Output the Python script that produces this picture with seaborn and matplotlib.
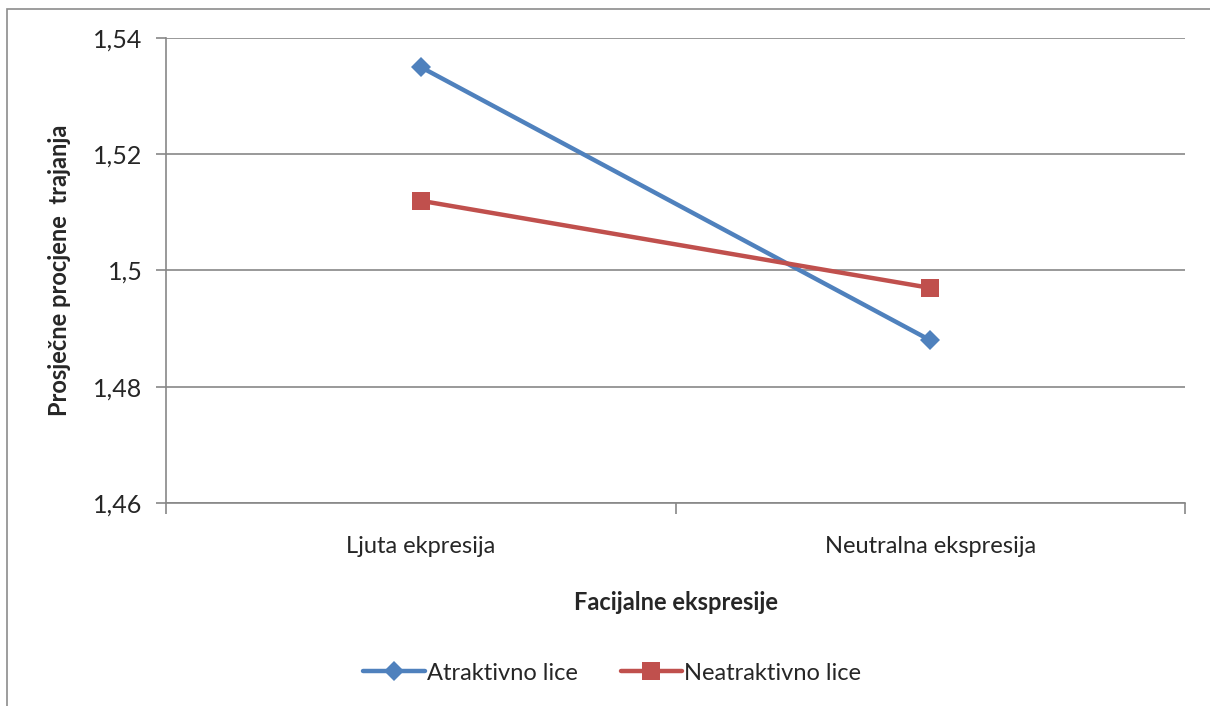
import pandas as pd
import seaborn as sns
import matplotlib.pyplot as plt
from matplotlib.patches import Rectangle
from matplotlib.ticker import FixedLocator

# Data
expressions = ["Ljuta ekpresija", "Neutralna ekspresija"]
attractive = [1.535, 1.488]
unattractive = [1.512, 1.497]
series_names = ["Atraktivno lice", "Neatraktivno lice"]
y_ticks = [1.46, 1.48, 1.50, 1.52, 1.54]
y_tick_labels = ["1,46", "1,48", "1,5", "1,52", "1,54"]

df = pd.DataFrame({
    "expr": list(range(len(expressions))) * 2,
    "value": attractive + unattractive,
    "face": [series_names[0]] * 2 + [series_names[1]] * 2,
})

sns.set_style("white")
plt.rcParams["font.family"] = ["Lato", "DejaVu Sans"]

fig = plt.figure(figsize=(12.1, 7.06), dpi=100)
ax = fig.add_axes([166 / 1210, 1 - 503 / 706, (1185 - 166) / 1210, (503 - 38) / 706])

# outer chart border (cropped on right and bottom)
fig.patches.append(Rectangle((7 / 1210, -0.1), 1.2, 1 - 9 / 706 + 0.1,
                             transform=fig.transFigure, fill=False,
                             edgecolor="#8c8c8c", linewidth=1.2))

palette = {series_names[0]: "#4F81BD", series_names[1]: "#C0504D"}
markers = {series_names[0]: "D", series_names[1]: "s"}
sns.lineplot(data=df, x="expr", y="value", hue="face", style="face",
             palette=palette, markers=markers, dashes=False, linewidth=3.2,
             markersize=11, markeredgewidth=0, ax=ax)
for line in ax.lines:
    if line.get_marker() == "D":
        line.set_markersize(10)
    else:
        line.set_markersize(13)

ax.set_xlim(-0.5, 1.5)
ax.set_ylim(1.46, 1.54)
ax.set_yticks(y_ticks)
ax.set_yticklabels(y_tick_labels, fontsize=18)
ax.set_xticks(range(len(expressions)))
ax.set_xticklabels(expressions, fontsize=17)
ax.tick_params(axis="x", which="major", length=0, pad=24)
ax.xaxis.set_minor_locator(FixedLocator([-0.5, 0.5, 1.5]))
ax.tick_params(axis="x", which="minor", length=8, color="#878787", width=1.2, bottom=True)
ax.tick_params(axis="y", length=7, color="#878787", width=1.2, left=True, pad=10)
ax.grid(axis="y", color="#878787", linewidth=1.2)
ax.set_axisbelow(True)
for side in ["top", "right"]:
    ax.spines[side].set_visible(False)
for side in ["left", "bottom"]:
    ax.spines[side].set_color("#878787")
    ax.spines[side].set_linewidth(1.2)

ax.set_xlabel("Facijalne ekspresije", fontsize=17, fontweight="bold", labelpad=24)
ax.set_ylabel("Prosječne procjene  trajanja", fontsize=17, fontweight="bold", labelpad=16)

handles, labels = ax.get_legend_handles_labels()
ax.legend(handles, labels, loc="center", bbox_to_anchor=(0.438, -0.366), ncol=2,
          frameon=False, fontsize=17, handlelength=2.6, handletextpad=0.1,
          columnspacing=1.8)

fig.savefig("out.png", dpi=100)
